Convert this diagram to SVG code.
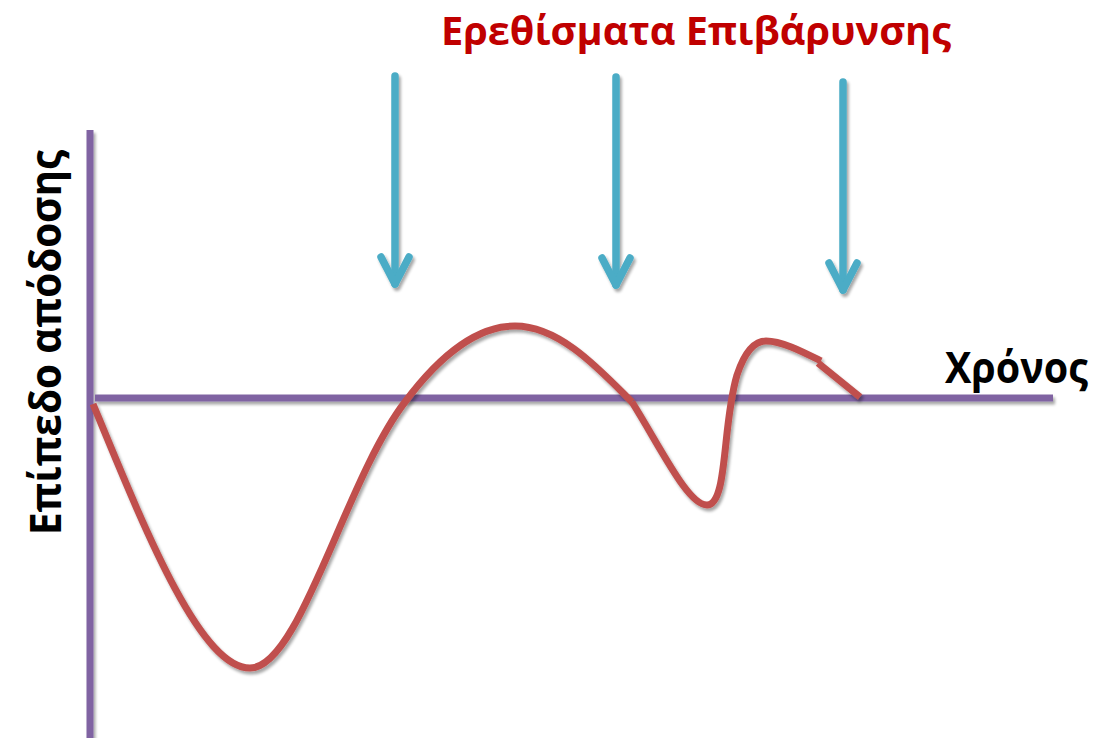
<svg xmlns="http://www.w3.org/2000/svg" width="1108" height="738" viewBox="0 0 1108 738">
<defs>
<filter id="sh" x="-20%" y="-20%" width="140%" height="140%">
<feGaussianBlur in="SourceAlpha" stdDeviation="1.5"/>
<feOffset dx="1.5" dy="2.5" result="b"/>
<feComponentTransfer><feFuncA type="linear" slope="0.35"/></feComponentTransfer>
<feMerge><feMergeNode/><feMergeNode in="SourceGraphic"/></feMerge>
</filter>
<style>
.axis{stroke:#8064A2;stroke-width:7;fill:none}
.arrow{stroke:#4BACC6;stroke-width:7.5;fill:none;stroke-linecap:round;stroke-linejoin:round}
.curve{stroke:#C0504D;stroke-width:7;fill:none;stroke-linejoin:round}
.lbl{font-family:"Open Sans","Noto Sans",sans-serif;font-weight:bold}
</style>
</defs>
<rect width="1108" height="738" fill="#ffffff"/>
<g id="axes" filter="url(#sh)">
<line class="axis" x1="90" y1="130" x2="90" y2="738"/>
<line class="axis" x1="95" y1="398" x2="1053" y2="398"/>
</g>
<g id="connectors" filter="url(#sh)">
<g id="arrow1"><line class="arrow" x1="395" y1="76" x2="395" y2="284"/><polyline class="arrow" points="381,257 395,284 409,257"/></g>
<g id="arrow2"><line class="arrow" x1="616" y1="77" x2="616" y2="285"/><polyline class="arrow" points="602,258 616,285 630,258"/></g>
<g id="arrow3"><line class="arrow" x1="843" y1="82" x2="843" y2="290"/><polyline class="arrow" points="829,263 843,290 857,263"/></g>
</g>
<g id="curve" filter="url(#sh)">
<path class="curve" d="M93,404 C145,530 200,668 250,668 C300,668 345,480 405,402 C440,355 478,326 515,326 C560,326 600,370 632,402"/>
<path class="curve" d="M632,402 C662,450 688,505 707,505 C728,505 722,425 737,375 C746,348 756,341 766,341 C782,341 803,352 821,361"/>
<path class="curve" d="M818,363 L860,397"/>
</g>
<g id="title"><text class="lbl" x="441" y="45" font-size="40" fill="#C00000" textLength="510" lengthAdjust="spacingAndGlyphs">Ερεθίσματα Επιβάρυνσης</text></g>
<g id="xlabel"><text class="lbl" x="945" y="383" font-size="43" fill="#000000" textLength="143" lengthAdjust="spacingAndGlyphs">Χρόνος</text></g>
<g id="ylabel"><text class="lbl" transform="translate(61,535) rotate(-90)" x="0" y="0" font-size="43" fill="#000000" textLength="385" lengthAdjust="spacingAndGlyphs">Επίπεδο απόδοσης</text></g>
</svg>
